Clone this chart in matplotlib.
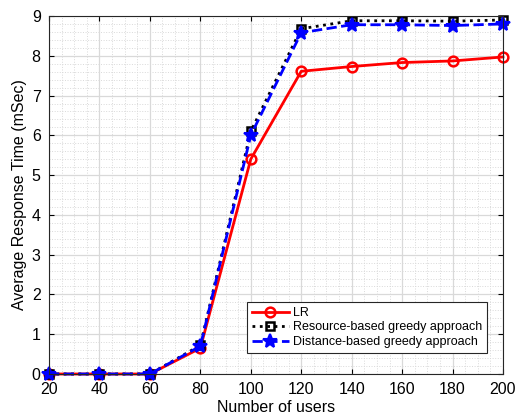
import matplotlib.pyplot as plt
from matplotlib.ticker import MultipleLocator

plt.rcParams['font.family'] = ['Liberation Sans', 'DejaVu Sans']

users = [20, 40, 60, 80, 100, 120, 140, 160, 180, 200]
lr = [0, 0, 0, 0.65, 5.4, 7.61, 7.73, 7.83, 7.87, 7.97]
resource = [0, 0, 0, 0.72, 6.1, 8.68, 8.88, 8.88, 8.87, 8.9]
distance = [0, 0, 0, 0.70, 6.0, 8.58, 8.78, 8.78, 8.76, 8.8]

fig = plt.figure(figsize=(5.22, 4.18), dpi=100)
ax = fig.add_axes([49/522, 44/418, 454/522, 358/418])

ax.plot(users, lr, color='red', linestyle='-', linewidth=2, marker='o',
        markersize=7, markerfacecolor='none', markeredgewidth=1.8, label='LR',
        clip_on=False)
ax.plot(users, resource, color='black', linestyle=':', linewidth=2, marker='s',
        markersize=6, markerfacecolor='none', markeredgewidth=1.8,
        label='Resource-based greedy approach', clip_on=False)
ax.plot(users, distance, color='blue', linestyle='--', linewidth=2, marker='*',
        markersize=10, markeredgewidth=1.5,
        label='Distance-based greedy approach', clip_on=False)

ax.set_xlim(20, 200)
ax.set_ylim(0, 9)
ax.set_xticks(users)
ax.set_yticks(range(0, 10))
ax.xaxis.set_minor_locator(MultipleLocator(5))
ax.yaxis.set_minor_locator(MultipleLocator(0.2))
ax.grid(which='major', color='#d9d9d9', linewidth=0.9)
ax.grid(which='minor', color='#d9d9d9', linestyle=':', linewidth=0.7)
ax.set_axisbelow(True)
ax.tick_params(which='both', direction='in', top=True, right=True, labelsize=11.5)
ax.tick_params(axis='x', pad=6)
ax.tick_params(axis='y', pad=6)
ax.tick_params(which='minor', length=0)
for s in ax.spines.values():
    s.set_color('#262626')
    s.set_linewidth(0.8)

ax.set_xlabel('Number of users', fontsize=11.5, labelpad=2)
ax.set_ylabel('Average Response Time (mSec)', fontsize=11.5, labelpad=3)

leg = ax.legend(loc='lower right', bbox_to_anchor=(0.965, 0.059), borderaxespad=0,
                fontsize=9, fancybox=False, framealpha=1, edgecolor='#262626',
                handlelength=3, handletextpad=0.3, labelspacing=0.2, borderpad=0.4)
leg.get_frame().set_linewidth(0.8)

fig.savefig('out.png', dpi=100)
